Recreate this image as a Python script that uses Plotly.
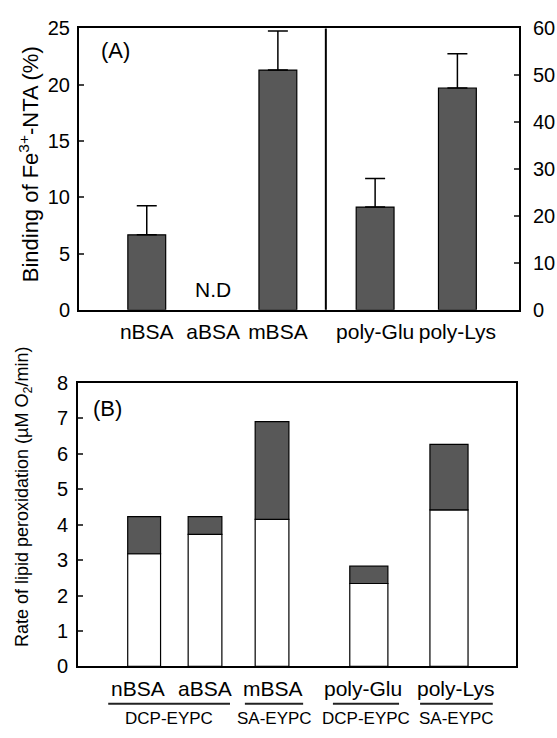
import plotly.graph_objects as go

# ---------------- data ----------------
categories = ["nBSA", "aBSA", "mBSA", "poly-Glu", "poly-Lys"]
# Panel A: binding of Fe3+-NTA (%) – proteins on left axis, polypeptides on right axis
protein_cats = ["nBSA", "aBSA", "mBSA"]
protein_binding = [6.66, None, 21.3]        # aBSA not detected (N.D)
protein_err = [2.59, 0.0, 3.47]
poly_cats = ["poly-Glu", "poly-Lys"]
poly_binding = [21.9, 47.3]
poly_err = [6.1, 7.3]
# Panel B: rate of lipid peroxidation (uM O2/min)
lipid_base = [3.18, 3.73, 4.15, 2.34, 4.42]
lipid_total = [4.23, 4.23, 6.91, 2.83, 6.27]
liposomes = ["DCP-EYPC", "SA-EYPC", "DCP-EYPC", "SA-EYPC"]

# ---------------- layout constants ----------------
W, H = 557, 738
FONT = "Liberation Sans, Arial, Helvetica, sans-serif"
GREY = "#585858"
posA = {"nBSA": 1.54, "aBSA": 3.05, "mBSA": 4.52, "poly-Glu": 6.73, "poly-Lys": 8.60}
posB = [1.51, 2.90, 4.43, 6.64, 8.47]
widthB = [0.75, 0.77, 0.77, 0.87, 0.87]
labelB = [1.36, 2.90, 4.45, 6.51, 8.63]
groupB = [(0.69, 3.47), (3.81, 5.14), (5.82, 7.33), (7.81, 9.47)]

def py(px):
    return 1 - px / H

fig = go.Figure()

# Panel A – proteins (left axis)
fig.add_trace(go.Bar(
    x=[posA[c] for c in protein_cats], y=protein_binding, width=0.86,
    xaxis="x", yaxis="y",
    marker=dict(color=GREY, line=dict(color="black", width=1.2)),
    error_y=dict(type="data", symmetric=False, array=protein_err,
                 arrayminus=[0] * len(protein_err), color="black",
                 thickness=1.5, width=10),
    showlegend=False))
# Panel A – polypeptides (right axis)
fig.add_trace(go.Bar(
    x=[posA[c] for c in poly_cats], y=poly_binding, width=0.86,
    xaxis="x", yaxis="y3",
    marker=dict(color=GREY, line=dict(color="black", width=1.2)),
    error_y=dict(type="data", symmetric=False, array=poly_err,
                 arrayminus=[0] * len(poly_err), color="black",
                 thickness=1.5, width=10),
    showlegend=False))

# Panel B – stacked (white base + grey top)
fig.add_trace(go.Bar(
    x=posB, y=lipid_base, width=widthB, xaxis="x2", yaxis="y2",
    marker=dict(color="white", line=dict(color="black", width=1.2)),
    showlegend=False))
fig.add_trace(go.Bar(
    x=posB, y=[t - b for t, b in zip(lipid_total, lipid_base)], base=lipid_base,
    width=widthB, xaxis="x2", yaxis="y2",
    marker=dict(color=GREY, line=dict(color="black", width=1.2)),
    showlegend=False))

axis_common = dict(showline=True, linecolor="black", linewidth=2,
                   showgrid=False, zeroline=False)
tickfont = dict(family=FONT, size=20, color="black")

fig.update_layout(
    width=W, height=H, margin=dict(l=0, r=0, t=0, b=0),
    paper_bgcolor="white", plot_bgcolor="white", barmode="overlay",
    font=dict(family=FONT, color="black"),
    xaxis=dict(domain=[79 / W, 519 / W], range=[0, 10], anchor="y",
               mirror=True, ticks="", tickvals=[posA[c] for c in categories],
               ticktext=categories, tickfont=dict(family=FONT, size=21),
               ticklabelstandoff=2, **axis_common),
    yaxis=dict(domain=[py(308), py(18)], range=[0, 25], dtick=5,
               ticks="inside", ticklen=5, tickwidth=1.5, anchor="x",
               tickfont=tickfont, ticklabelstandoff=3, **axis_common),
    yaxis3=dict(overlaying="y", side="right", range=[0, 60], dtick=10,
                ticks="inside", ticklen=5, tickwidth=1.5, anchor="x",
                tickfont=tickfont, ticklabelstandoff=8, **axis_common),
    xaxis2=dict(domain=[78 / W, 516 / W], range=[0, 10], anchor="y2",
                mirror=True, ticks="", showticklabels=False, **axis_common),
    yaxis2=dict(domain=[py(675.5), py(383.5)], range=[0, 8], dtick=1,
                ticks="inside", ticklen=5, tickwidth=1.5, anchor="x2",
                mirror=True, tickfont=tickfont, ticklabelstandoff=4,
                **axis_common),
)

shapes = [dict(type="line", xref="x", yref="y domain", x0=5.61, x1=5.61,
               y0=0, y1=1, line=dict(color="black", width=2))]
for x0, x1 in groupB:
    shapes.append(dict(type="line", xref="x2", yref="paper", x0=x0, x1=x1,
                       y0=py(714), y1=py(714), line=dict(color="#222", width=2)))
fig.update_layout(shapes=shapes)

C = dict(showarrow=False, xanchor="center", yanchor="middle")
ann = []
ann.append(dict(text="(A)", x=115 / W, y=py(41), xref="paper", yref="paper",
                font=dict(family=FONT, size=22), **C))
ann.append(dict(text="(B)", x=107 / W, y=py(410), xref="paper", yref="paper",
                font=dict(family=FONT, size=22), **C))
ann.append(dict(text="N.D", x=posA["aBSA"], y=1.8, xref="x", yref="y",
                font=dict(family=FONT, size=21), **C))
ann.append(dict(text="Binding of Fe<sup>3+</sup>-NTA (%)", textangle=-90,
                x=29 / W, y=py(158), xref="paper", yref="paper",
                font=dict(family=FONT, size=22), **C))
ann.append(dict(text="Rate of lipid peroxidation (µM O<sub>2</sub>/min)",
                textangle=-90, x=23 / W, y=py(501), xref="paper", yref="paper",
                font=dict(family=FONT, size=18), **C))
for c, lx in zip(categories, labelB):
    ann.append(dict(text=c, x=lx, y=py(698), xref="x2", yref="paper",
                    font=dict(family=FONT, size=21), **C))
for name, (x0, x1) in zip(liposomes, groupB):
    ann.append(dict(text=name, x=(x0 + x1) / 2, y=py(729), xref="x2",
                    yref="paper", font=dict(family=FONT, size=17), **C))
fig.update_layout(annotations=ann)

fig.write_html("out.html")
